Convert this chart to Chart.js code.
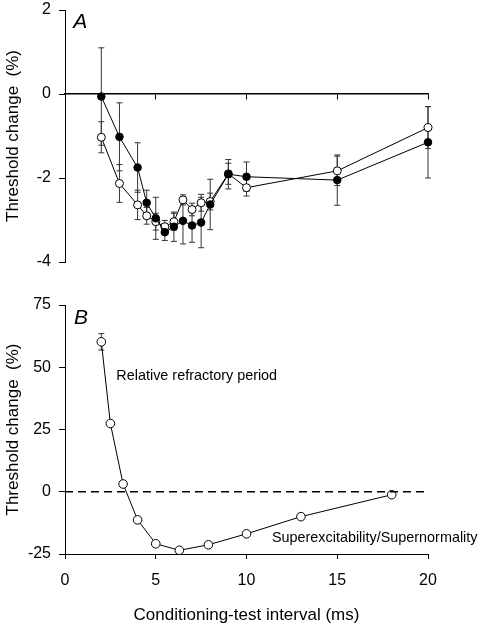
<!DOCTYPE html>
<html>
<head>
<meta charset="utf-8">
<script src="https://cdn.jsdelivr.net/npm/chart.js@4.4.1/dist/chart.umd.min.js"></script>
<style>
  body { margin: 0; background: #fff; }
  #wrap { position: relative; width: 478px; height: 626px; }
  #boxA { position: absolute; left: 0; top: 0; width: 478px; height: 290px; }
  #boxB { position: absolute; left: 0; top: 290px; width: 478px; height: 336px; }
</style>
</head>
<body>
<div id="wrap">
  <div id="boxA"><canvas id="chartA"></canvas></div>
  <div id="boxB"><canvas id="chartB"></canvas></div>
</div>
<script>
// panel A data (threshold change, %)
var xA = [2, 3, 4, 4.5, 5, 5.5, 6, 6.5, 7, 7.5, 8, 9, 10, 15, 20];
var filledA = [-0.06, -1.02, -1.75, -2.59, -2.96, -3.29, -3.16, -3.02, -3.13, -3.06, -2.63, -1.91, -1.97, -2.05, -1.15];
var filledErrA = [1.16, 0.81, 0.59, 0.3, 0.5, 0.2, 0.35, 0.55, 0.4, 0.6, 0.6, 0.35, 0.35, 0.6, 0.85];
var openA = [-1.03, -2.13, -2.64, -2.9, -3.04, -3.16, -3.04, -2.52, -2.75, -2.59, -2.56, -1.9, -2.23, -1.83, -0.8];
var openErrA = [0.37, 0.45, 0.35, 0.2, 0.2, 0.15, 0.2, 0.12, 0.15, 0.2, 0.2, 0.25, 0.2, 0.35, 0.5];
var yTicksA = [2, 0, -2, -4];

// panel B data
var xB = [2, 2.5, 3.2, 4, 5, 6.3, 7.9, 10, 13, 18];
var yB = [60.2, 27.4, 3.1, -11.3, -20.9, -23.5, -21.3, -16.9, -10.0, -1.2];
var errB = [3.3, 0, 0, 0, 0, 0, 0, 0, 0, 0];
var yTicksB = [75, 50, 25, 0, -25];
var zeroX = [0, 20];
var zeroY = [0, 0];
var xTicks = [0, 5, 10, 15, 20];

var FONT = "'Liberation Sans', Arial, Helvetica, sans-serif";

function toPoints(xs, ys) {
  var out = [];
  for (var i = 0; i < xs.length; i++) out.push({x: xs[i], y: ys[i]});
  return out;
}

// vertical error bars, drawn under the points
var errorBars = {
  id: 'errorBars',
  beforeDatasetsDraw: function (chart) {
    var ctx = chart.ctx, xs = chart.scales.x, ys = chart.scales.y;
    ctx.save();
    ctx.strokeStyle = '#333';
    ctx.lineWidth = 1;
    chart.data.datasets.forEach(function (ds) {
      if (!ds.errors) return;
      ds.data.forEach(function (p, i) {
        var e = ds.errors[i];
        if (!e) return;
        var px = xs.getPixelForValue(p.x);
        var top = ys.getPixelForValue(p.y + e);
        var bot = ys.getPixelForValue(p.y - e);
        ctx.beginPath();
        ctx.moveTo(px, top); ctx.lineTo(px, bot);
        ctx.moveTo(px - 3, top); ctx.lineTo(px + 3, top);
        ctx.moveTo(px - 3, bot); ctx.lineTo(px + 3, bot);
        ctx.stroke();
      });
    });
    ctx.restore();
  }
};

// text labels placed in data coordinates
var labels = {
  id: 'labels',
  afterDraw: function (chart, args, opts) {
    var ctx = chart.ctx, xs = chart.scales.x, ys = chart.scales.y;
    ctx.save();
    ctx.fillStyle = '#000';
    ctx.textBaseline = 'middle';
    ctx.textAlign = 'left';
    (opts.items || []).forEach(function (t) {
      ctx.font = t.font;
      ctx.fillText(t.text, xs.getPixelForValue(t.x), ys.getPixelForValue(t.y));
    });
    ctx.restore();
  }
};

function yAxis(min, max, ticks) {
  return {
    type: 'linear', position: 'left', min: min, max: max,
    // fixed width, and no extra room above/below for the end labels
    afterFit: function (s) { s.width = 65; s.paddingTop = 0; s.paddingBottom = 0; },
    afterBuildTicks: function (s) { s.ticks = ticks.map(function (v) { return {value: v}; }); },
    grid: { drawOnChartArea: false, tickLength: 6, color: '#000', lineWidth: 1 },
    border: { color: '#000', width: 1 },
    ticks: { color: '#000', padding: 8, font: { family: FONT, size: 16 } },
    title: { display: true, text: 'Threshold change  (%)', color: '#000', padding: { top: 3, bottom: 0 }, font: { family: FONT, size: 17 } }
  };
}

var common = {
  responsive: true,
  maintainAspectRatio: false,
  animation: false,
  events: [],
  plugins: { legend: { display: false }, tooltip: { enabled: false } }
};

new Chart('chartA', {
  type: 'line',
  data: {
    datasets: [{
      data: toPoints(xA, filledA), errors: filledErrA,
      borderColor: '#000', borderWidth: 1, backgroundColor: '#000',
      pointRadius: 3.8, pointBorderWidth: 1, pointBackgroundColor: '#000', tension: 0, clip: false
    }, {
      data: toPoints(xA, openA), errors: openErrA,
      borderColor: '#000', borderWidth: 1, backgroundColor: '#fff',
      pointRadius: 4, pointBorderWidth: 1, pointBackgroundColor: '#fff', tension: 0, clip: false
    }]
  },
  options: Object.assign({}, common, {
    layout: { padding: { top: 10, right: 50, bottom: 28, left: 0 } },
    scales: {
      x: {
        type: 'linear', min: 0, max: 20, position: { y: 0 },
        afterBuildTicks: function (s) { s.ticks = xTicks.map(function (v) { return {value: v}; }); },
        grid: { drawOnChartArea: false, tickLength: 5, color: '#000', lineWidth: 1 },
        border: { color: '#000', width: 1.5 },
        ticks: { display: false }
      },
      y: yAxis(-4, 2, yTicksA)
    },
    plugins: Object.assign({}, common.plugins, {
      labels: { items: [{ text: 'A', x: 0.45, y: 1.72, font: 'italic 21px ' + FONT }] }
    })
  }),
  plugins: [errorBars, labels]
});

new Chart('chartB', {
  type: 'line',
  data: {
    datasets: [{
      data: toPoints(zeroX, zeroY),
      borderColor: '#000', borderWidth: 1.6, borderDash: [8, 5], pointRadius: 0, tension: 0
    }, {
      data: toPoints(xB, yB), errors: errB,
      borderColor: '#000', borderWidth: 1, backgroundColor: '#fff',
      pointRadius: 4.3, pointBorderWidth: 1, pointBackgroundColor: '#fff', tension: 0, clip: false
    }]
  },
  options: Object.assign({}, common, {
    layout: { padding: { top: 15, right: 50, bottom: 0, left: 0 } },
    scales: {
      x: {
        type: 'linear', min: 0, max: 20, position: 'bottom',
        afterFit: function (s) { s.height = 72; },
        afterBuildTicks: function (s) { s.ticks = xTicks.map(function (v) { return {value: v}; }); },
        grid: { drawOnChartArea: false, tickLength: 5, color: '#000', lineWidth: 1 },
        border: { color: '#000', width: 1 },
        ticks: { color: '#000', padding: 12, maxRotation: 0, font: { family: FONT, size: 16 } },
        title: { display: true, text: 'Conditioning-test interval (ms)', color: '#000', padding: { top: 0, bottom: 0 }, font: { family: FONT, size: 17 } }
      },
      y: yAxis(-25, 75, yTicksB)
    },
    plugins: Object.assign({}, common.plugins, {
      labels: { items: [
        { text: 'B', x: 0.5, y: 69.8, font: 'italic 21px ' + FONT },
        { text: 'Relative refractory period', x: 2.83, y: 46.3, font: '14.4px ' + FONT },
        { text: 'Superexcitability/Supernormality', x: 11.4, y: -18.7, font: '14.4px ' + FONT }
      ] }
    })
  }),
  plugins: [errorBars, labels]
});
</script>
</body>
</html>
